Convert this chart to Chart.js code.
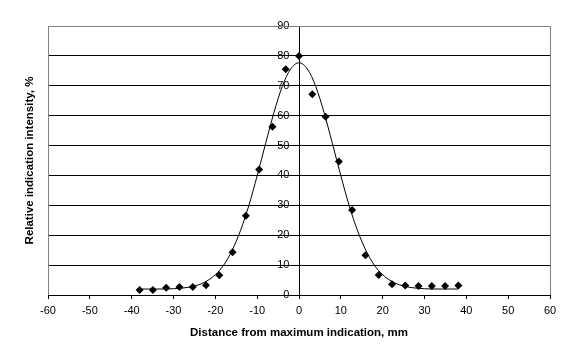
<!DOCTYPE html>
<html>
<head>
<meta charset="utf-8">
<script src="https://cdn.jsdelivr.net/npm/chart.js@4/dist/chart.umd.min.js"></script>
<style>
  body { margin: 0; background: #fff; }
  canvas { display: block; }
</style>
</head>
<body>
<canvas id="myChart" width="576" height="361"></canvas>
<script>
// measured points, spaced 1/8 inch apart
var distMm = [-38.1, -34.925, -31.75, -28.575, -25.4, -22.225, -19.05, -15.875, -12.7, -9.525, -6.35, -3.175, 0,
              3.175, 6.35, 9.525, 12.7, 15.875, 19.05, 22.225, 25.4, 28.575, 31.75, 34.925, 38.1];
var intensity = [1.7, 1.7, 2.4, 2.7, 2.7, 3.3, 6.6, 14.3, 26.5, 42, 56.3, 75.5, 80,
                 67.2, 59.6, 44.7, 28.4, 13.3, 6.7, 3.6, 3.2, 3.0, 3.0, 3.0, 3.2];

// fitted curve
var fitX = [-38, -36, -34, -32, -30, -28, -26, -24, -22, -20, -18, -16, -14, -12, -10, -8, -6, -4, -2, 0,
            2, 4, 6, 8, 10, 12, 14, 16, 18, 20, 22, 24, 26, 28, 30, 32, 34, 36, 38];
var fitY = [2.0, 2.0, 2.0, 2.0, 2.1, 2.3, 2.7, 3.4, 4.7, 6.8, 10.0, 14.9, 21.5, 29.9, 39.9, 50.6, 61.0, 69.8, 75.6, 77.7,
            75.6, 69.8, 61.0, 50.6, 39.9, 29.9, 21.5, 14.9, 10.0, 6.8, 4.7, 3.4, 2.7, 2.3, 2.1, 2.0, 2.0, 2.0, 2.0];

var xTitle = 'Distance from maximum indication, mm';
var yTitle = 'Relative indication intensity, %';

var pts = distMm.map(function (x, i) { return {x: x, y: intensity[i]}; });
var fit = fitX.map(function (x, i) { return {x: x, y: fitY[i]}; });

// grey frame round the plot area and the rotated y title
var frame = {
  id: 'frame',
  beforeDatasetsDraw: function (chart) {
    var a = chart.chartArea, c = chart.ctx;
    c.save();
    c.strokeStyle = '#808080';
    c.lineWidth = 1;
    c.beginPath();
    c.moveTo(Math.round(a.left) + 0.5, Math.round(a.bottom));
    c.lineTo(Math.round(a.left) + 0.5, Math.round(a.top) + 0.5);
    c.lineTo(Math.round(a.right) + 0.5, Math.round(a.top) + 0.5);
    c.lineTo(Math.round(a.right) + 0.5, Math.round(a.bottom));
    c.stroke();
    c.restore();
  },
  afterDraw: function (chart) {
    var a = chart.chartArea, c = chart.ctx;
    c.save();
    c.translate(30, (a.top + a.bottom) / 2);
    c.rotate(-Math.PI / 2);
    c.font = 'bold 11.5px "Liberation Sans", Arial, sans-serif';
    c.fillStyle = '#000';
    c.textAlign = 'center';
    c.textBaseline = 'middle';
    c.fillText(yTitle, 0, 0);
    c.restore();
  }
};

var ctx = document.getElementById('myChart').getContext('2d');
var myChart = new Chart(ctx, {
  type: 'scatter',
  data: {
    datasets: [{
      data: pts,
      pointStyle: 'rectRot',
      pointRadius: 4,
      backgroundColor: '#000',
      borderColor: '#000',
      borderWidth: 0,
      showLine: false
    }, {
      data: fit,
      showLine: true,
      pointRadius: 0,
      borderColor: '#000',
      borderWidth: 1,
      tension: 0.4,
      cubicInterpolationMode: 'monotone'
    }]
  },
  options: {
    responsive: false,
    animation: false,
    layout: { padding: { left: 48, right: 26, top: 26, bottom: 0 } },
    plugins: { legend: { display: false }, tooltip: { enabled: false } },
    font: { family: '"Liberation Sans", Arial, sans-serif', size: 11 },
    scales: {
      x: {
        type: 'linear',
        min: -60, max: 60,
        afterFit: function (s) { s.height = 66; },
        ticks: { stepSize: 10, color: '#000', padding: 5, maxRotation: 0,
                 font: { size: 11 } },
        grid: { drawOnChartArea: false, color: '#000', tickLength: 4 },
        border: { color: '#000' },
        title: { display: true, text: xTitle, color: '#000',
                 font: { size: 11.5, weight: 'bold' }, padding: { top: 8, bottom: 21 } }
      },
      // axis line, grid and tick marks sit on x = 0
      y: {
        type: 'linear',
        position: { x: 0 },
        min: 0, max: 90,
        ticks: { stepSize: 10, display: false },
        grid: {
          color: function (c) { return c.tick && c.tick.value === 90 ? '#808080' : '#000'; },
          tickLength: 4
        },
        border: { color: '#000' }
      },
      // labels only, set a little left of the axis line
      yLabels: {
        type: 'linear',
        axis: 'y',
        position: { x: -2.3 },
        min: 0, max: 90,
        ticks: { stepSize: 10, color: '#000', font: { size: 11 } },
        grid: { display: false, drawTicks: false },
        border: { display: false }
      }
    }
  },
  plugins: [frame]
});
</script>
</body>
</html>
